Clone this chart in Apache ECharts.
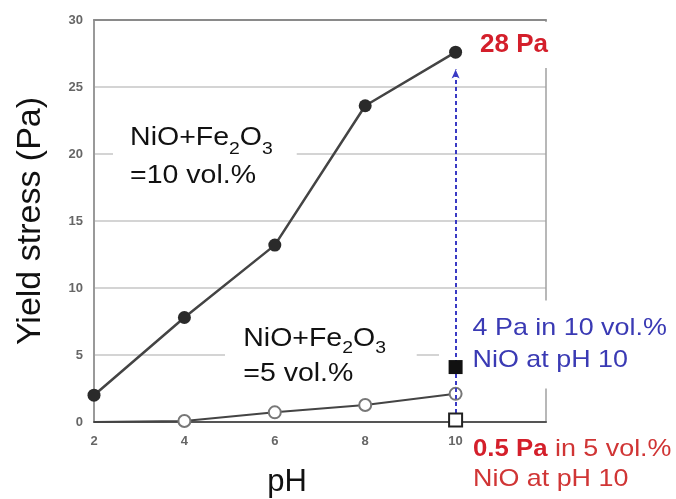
<!DOCTYPE html>
<html>
<head>
<meta charset="utf-8">
<script src="https://cdn.jsdelivr.net/npm/echarts@6/dist/echarts.min.js"></script>
<style>
html,body{margin:0;padding:0;background:#fff;}
#chart{width:676px;height:499px;}
</style>
</head>
<body>
<div id="chart"></div>
<script>
// ---- data ----
var ph = [2, 4, 6, 8, 10];
var yield10 = [2.0, 7.8, 13.2, 23.6, 27.6];   // NiO+Fe2O3 = 10 vol.%
var yield5 = [0, 0.07, 0.72, 1.27, 2.1];      // NiO+Fe2O3 = 5 vol.%
var nio10 = [[10, 4.1]];                      // NiO alone, 10 vol.%
var nio5 = [[10, 0.15]];                      // NiO alone, 5 vol.%
var arrowFrom = [10, 0.15];
var arrowTo = [10, 26.3];
var xTicks = [2, 4, 6, 8, 10];
var yTicks = [0, 5, 10, 15, 20, 25, 30];

var FONT = 'Liberation Sans, Arial, sans-serif';
var chart = echarts.init(document.getElementById('chart'), null, {renderer: 'canvas'});

var s10 = ph.map(function (x, i) { return [x, yield10[i]]; });
var s5 = ph.map(function (x, i) {
  var d = {value: [x, yield5[i]]};
  if (i === 0) d.symbol = 'none';
  return d;
});

var option = {
  animation: false,
  backgroundColor: '#fff',
  grid: {left: 94, right: 130, top: 20, bottom: 77, containLabel: false},
  xAxis: [{
    type: 'value', min: 2, max: 12, interval: 2,
    axisLine: {show: true, onZero: false, lineStyle: {color: '#555', width: 2}},
    axisTick: {show: false},
    splitLine: {show: false},
    axisLabel: {
      fontFamily: FONT, fontSize: 13, fontWeight: 'bold', color: '#666', margin: 13,
      formatter: function (v) { return xTicks.indexOf(v) >= 0 ? String(v) : ''; }
    }
  }, {
    type: 'value', position: 'top', min: 2, max: 12, interval: 2,
    axisLine: {show: true, onZero: false, lineStyle: {color: '#8a8a8a', width: 2}},
    axisTick: {show: false}, axisLabel: {show: false}, splitLine: {show: false}
  }],
  yAxis: [{
    type: 'value', min: 0, max: 30, interval: 5,
    axisLine: {show: true, onZero: false, lineStyle: {color: '#999', width: 2}},
    axisTick: {show: false},
    splitLine: {show: true, lineStyle: {color: '#c6c6c6', width: 1.5}},
    axisLabel: {
      fontFamily: FONT, fontSize: 13, fontWeight: 'bold', color: '#666', margin: 11,
      formatter: function (v) { return yTicks.indexOf(v) >= 0 ? String(v) : ''; }
    },
    name: 'Yield stress (Pa)', nameLocation: 'middle', nameGap: 46,
    nameTextStyle: {fontFamily: FONT, fontSize: 34, color: '#111'}
  }, {
    type: 'value', position: 'right', min: 0, max: 30, interval: 5,
    axisLine: {show: true, onZero: false, lineStyle: {color: '#a0a0a0', width: 1.5}},
    axisTick: {show: false}, axisLabel: {show: false}, splitLine: {show: false}
  }],
  series: [{
    type: 'line', name: 'arrow', data: [], z: 2,
    markLine: {
      silent: true, animation: false,
      symbol: ['none', 'arrow'], symbolSize: [6, 9],
      label: {show: false},
      lineStyle: {color: '#3a3ac4', width: 2, type: [4, 3]},
      data: [[{coord: arrowFrom}, {coord: arrowTo}]]
    }
  }, {
    type: 'line', name: '10 vol.%', data: s10, z: 3,
    symbol: 'circle', symbolSize: 13,
    itemStyle: {color: '#2a2a2a'},
    lineStyle: {color: '#444', width: 2.5}
  }, {
    type: 'line', name: '5 vol.%', data: s5, z: 3,
    symbol: 'emptyCircle', symbolSize: 12,
    itemStyle: {color: '#777', borderWidth: 1.5},
    lineStyle: {color: '#444', width: 2}
  }, {
    type: 'scatter', name: 'NiO 10', data: nio10, z: 10,
    symbol: 'rect', symbolSize: 14,
    itemStyle: {color: '#111', opacity: 1}
  }, {
    type: 'scatter', name: 'NiO 5', data: nio5, z: 10,
    symbol: 'rect', symbolSize: 13,
    itemStyle: {color: '#fff', borderColor: '#222', borderWidth: 2, opacity: 1}
  }],
  graphic: [{
    type: 'text', z: 1, x: 113, y: 113.5, scaleX: 1.14,
    style: {
      text: 'NiO+Fe{s|2}O{s|3}\n=10 vol.%',
      fontFamily: FONT, fontSize: 25, lineHeight: 38, fill: '#111',
      align: 'left', verticalAlign: 'top',
      backgroundColor: '#fff', padding: [6, 21, 6, 15],
      rich: {s: {fontFamily: FONT, fontSize: 17, lineHeight: 14, verticalAlign: 'bottom', fill: '#111'}}
    }
  }, {
    type: 'text', z: 1, x: 225, y: 316, scaleX: 1.14,
    style: {
      text: 'NiO+Fe{s|2}O{s|3}\n=5 vol.%',
      fontFamily: FONT, fontSize: 25, lineHeight: 35, fill: '#111',
      align: 'left', verticalAlign: 'top',
      backgroundColor: '#fff', padding: [6, 27, 6, 16],
      rich: {s: {fontFamily: FONT, fontSize: 17, lineHeight: 14, verticalAlign: 'bottom', fill: '#111'}}
    }
  }, {
    type: 'text', z: 1, x: 439, y: 300.5, scaleX: 1.12,
    style: {
      text: '4 Pa in 10 vol.%\nNiO at pH 10',
      fontFamily: FONT, fontSize: 24, lineHeight: 32, fill: '#3a3ab4',
      align: 'left', verticalAlign: 'top',
      backgroundColor: '#fff', padding: [12, 6, 12, 30]
    }
  }, {
    type: 'text', z: 1, x: 476, y: 22,
    style: {
      text: '28 Pa',
      fontFamily: FONT, fontSize: 26, fontWeight: 'bold', lineHeight: 26, fill: '#d41f2b',
      align: 'left', verticalAlign: 'top',
      backgroundColor: '#fff', padding: [10, 4, 10, 4]
    }
  }, {
    type: 'text', z: 1, x: 473, y: 434.5, scaleX: 1.12,
    style: {
      text: '{b|0.5 Pa}{r| in 5 vol.%}\n{r|NiO at pH 10}',
      fontFamily: FONT, fontSize: 24, lineHeight: 30, fill: '#d03030',
      align: 'left', verticalAlign: 'top',
      rich: {
        b: {fontFamily: FONT, fontSize: 23, fontWeight: 'bold', lineHeight: 30, fill: '#d41f2b'},
        r: {fontFamily: FONT, fontSize: 24, lineHeight: 30, fill: '#d03535'}
      }
    }
  }, {
    type: 'text', z: 1, x: 287, y: 482,
    style: {
      text: 'pH', fontFamily: FONT, fontSize: 31, fill: '#111',
      align: 'center', verticalAlign: 'middle'
    }
  }]
};
chart.setOption(option);
</script>
</body>
</html>
